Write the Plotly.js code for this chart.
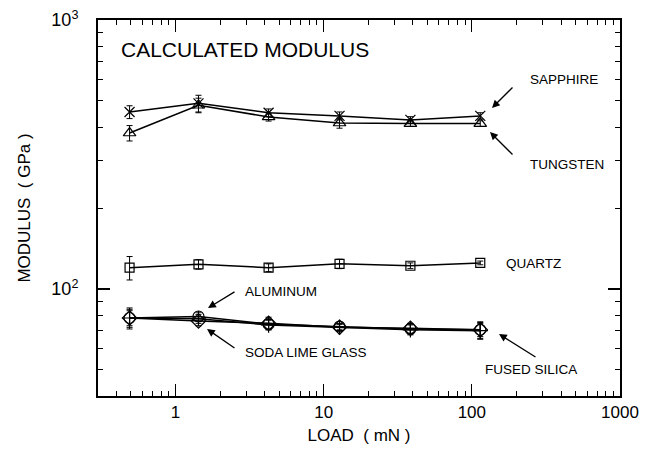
<!DOCTYPE html>
<html>
<head>
<meta charset="utf-8">
<script src="https://cdn.plot.ly/plotly-3.0.1.min.js"></script>
<style>html,body{margin:0;padding:0;background:#fff;}#chart{width:648px;height:457px;}</style>
</head>
<body>
<div id="chart"></div>
<script>
// Load (mN) at which each material was tested
const load = [0.49, 1.43, 4.25, 12.8, 38.5, 114];

// Calculated modulus (GPa) and error half-widths
const sapphire     = [455, 490, 452, 440, 425, 440];
const sapphireErr  = [25, 35, 15, 15, 12, 12];
const tungsten     = [380, 482, 436, 414, 412, 412];
const tungstenErr  = [25, 30, 15, 18, 10, 10];
const quartz       = [120, 123.5, 120, 124, 122, 125];
const quartzErr    = [12, 5, 4, 5, 3, 2];
const aluminum     = [78, 79, 74, 72.5, 71, 70.5];
const aluminumErr  = [7, 3, 3, 2, 3, 5];
const sodaLime     = [78, 76, 74.5, 72, 71.5, 70.5];
const sodaLimeErr  = [5, 3, 4, 2, 3, 4];
const fusedSilica  = [78, 77.5, 73.5, 72, 70.5, 70];
const fusedSilicaErr = [6, 3, 3, 2, 3, 5];

const xTickVals = [1, 10, 100, 1000];
const xTickText = ['1', '10', '100', '1000'];
const yTickVals = [100, 1000];
const yTickText = ['10<sup>2</sup>', '10<sup>3</sup>'];
const xMinor = [0.3,0.4,0.5,0.6,0.7,0.8,0.9,2,3,4,5,6,7,8,9,20,30,40,50,60,70,80,90,200,300,400,500,600,700,800,900];
const yMinor = [40,50,60,70,80,90,200,300,400,500,600,700,800,900];

function series(name, y, err, symbol, size) {
  return {
    type: 'scatter', mode: 'lines+markers', name: name,
    x: load, y: y,
    line: {color: '#000', width: 1.5},
    marker: {symbol: symbol, size: size, color: '#000', line: {color: '#000', width: 1.2}},
    error_y: {type: 'data', array: err, visible: true, color: '#000', thickness: 1, width: 3},
    showlegend: false
  };
}

const data = [
  series('SAPPHIRE', sapphire, sapphireErr, 'x-thin-open', 10),
  series('TUNGSTEN', tungsten, tungstenErr, 'triangle-up-open', 11),
  series('QUARTZ', quartz, quartzErr, 'square-open', 9),
  series('ALUMINUM', aluminum, aluminumErr, 'circle-open', 11),
  series('SODA LIME GLASS', sodaLime, sodaLimeErr, 'diamond-open', 11),
  series('FUSED SILICA', fusedSilica, fusedSilicaErr, 'cross-thin-open', 11)
];

const F = 'Liberation Sans, Arial, Helvetica, sans-serif';
const txt = (text, x, y, size, xanchor) => ({
  text: text, xref: 'paper', yref: 'paper', x: x, y: y, showarrow: false,
  xanchor: xanchor || 'left', yanchor: 'middle', font: {family: F, size: size, color: '#000'}
});
const arrow = (x, y, ax, ay) => ({
  text: ' ', xref: 'paper', yref: 'paper', x: x, y: y, ax: ax, ay: ay,
  showarrow: true, arrowhead: 2, arrowsize: 1.2, arrowwidth: 1.3, arrowcolor: '#000',
  font: {size: 1}
});
// paper coordinate helpers from pixel positions of the plot box
const L = 98, R = 620, T = 20, B = 396;
const px = v => (v - L) / (R - L);
const py = v => (B - v) / (B - T);

const layout = {
  width: 648, height: 457,
  margin: {l: L, r: 648 - R, t: T, b: 457 - B},
  paper_bgcolor: '#fff', plot_bgcolor: '#fff',
  font: {family: F, size: 15, color: '#000'},
  xaxis: {
    type: 'log', range: [Math.log10(0.3), 3],
    tickmode: 'array', tickvals: xTickVals, ticktext: xTickText,
    ticks: 'inside', ticklen: 12, tickwidth: 1.2, tickcolor: '#000',
    minor: {tickmode: 'array', tickvals: xMinor, ticks: 'inside', ticklen: 5, tickwidth: 1, tickcolor: '#000'},
    showline: true, linecolor: '#000', linewidth: 2, mirror: 'ticks',
    showgrid: false, zeroline: false,
    tickfont: {family: F, size: 17},
    title: {text: 'LOAD  ( mN )', font: {family: F, size: 17}, standoff: 8}
  },
  yaxis: {
    type: 'log', range: [Math.log10(40), 3],
    tickmode: 'array', tickvals: yTickVals, ticktext: yTickText,
    ticks: 'inside', ticklen: 12, tickwidth: 1.2, tickcolor: '#000',
    minor: {tickmode: 'array', tickvals: yMinor, ticks: 'inside', ticklen: 5, tickwidth: 1, tickcolor: '#000'},
    showline: true, linecolor: '#000', linewidth: 2, mirror: 'ticks',
    showgrid: false, zeroline: false,
    tickfont: {family: F, size: 18},
    ticklabelstandoff: 14,
    title: {text: 'MODULUS  ( GPa )', font: {family: F, size: 17}, standoff: 16}
  },
  annotations: [
    txt('CALCULATED MODULUS', px(119), py(50), 21),
    txt('SAPPHIRE', px(528), py(80), 13.5),
    txt('TUNGSTEN', px(528), py(165), 13.5),
    txt('QUARTZ', px(504), py(263), 13.5),
    txt('ALUMINUM', px(243), py(291), 13.5),
    txt('SODA LIME GLASS', px(243), py(352), 13.5),
    txt('FUSED SILICA', px(483), py(369), 13.5),
    arrow(px(492), py(108), 22, -22),
    arrow(px(490), py(132), 24, 24),
    arrow(px(208), py(308), 28, -17),
    arrow(px(207), py(329), 29, 20),
    arrow(px(499), py(334), 38, 24)
  ]
};

Plotly.newPlot('chart', data, layout, {displayModeBar: false, staticPlot: true});
</script>
</body>
</html>
